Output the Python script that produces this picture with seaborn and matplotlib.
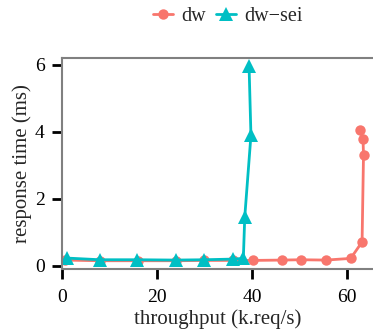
import pandas as pd
import seaborn as sns
import matplotlib.pyplot as plt

# dw: throughput (k.req/s) vs response time (ms)
dw_x = [0.6, 8, 16, 24, 30, 36, 40.3, 46.3, 50.3, 55.6, 60.8, 63.2, 63.5, 63.4, 62.8]
dw_y = [0.17, 0.15, 0.15, 0.15, 0.16, 0.16, 0.16, 0.17, 0.18, 0.17, 0.22, 0.71, 3.29, 3.78, 4.04]

# dw-sei
sei_x = [1.0, 8.0, 15.9, 24.0, 30.0, 36.1, 38.2, 38.5, 39.8, 39.4]
sei_y = [0.23, 0.18, 0.18, 0.17, 0.18, 0.2, 0.22, 1.46, 3.89, 5.97]

series = ["dw", "dw\u2212sei"]
palette = {"dw": "#F8766D", "dw\u2212sei": "#00BFC4"}
markers = {"dw": "o", "dw\u2212sei": "^"}

df = pd.concat([
    pd.DataFrame({"throughput": dw_x, "rt": dw_y, "system": series[0]}),
    pd.DataFrame({"throughput": sei_x, "rt": sei_y, "system": series[1]}),
], ignore_index=True)

sns.set_style("ticks")
plt.rcParams["font.family"] = ["Liberation Serif", "DejaVu Serif"]

fig = plt.figure(figsize=(3.73, 3.36), dpi=100)
ax = fig.add_axes([0.166, 0.199, 0.834, 0.629])

sns.lineplot(data=df, x="throughput", y="rt", hue="system", style="system",
             palette=palette, markers=markers, dashes=False, sort=False,
             estimator=None, linewidth=2, markersize=7.5, markeredgewidth=0,
             ax=ax)

# triangles look a bit bigger than the circles in the original
for ln in ax.lines:
    if ln.get_marker() == "^":
        ln.set_markersize(9.5)

ax.set_xlim(0, 65.5)
ax.set_ylim(-0.1, 6.2)
ax.set_xticks([0, 20, 40, 60])
ax.set_yticks([0, 2, 4, 6])
ax.set_xlabel("throughput (k.req/s)", fontsize=15, labelpad=2)
ax.set_ylabel("response time (ms)", fontsize=15, labelpad=2)
ax.tick_params(axis="both", colors="black", width=2, length=7.5, labelsize=14)
ax.tick_params(axis="x", pad=7)
ax.tick_params(axis="y", pad=5)

for side in ["left", "top", "bottom"]:
    ax.spines[side].set_color("#808080")
    ax.spines[side].set_linewidth(1.5)
ax.spines["right"].set_visible(False)

handles, labels = ax.get_legend_handles_labels()
ax.legend(handles, labels, loc="center", bbox_to_anchor=(0.61, 0.95),
          bbox_transform=fig.transFigure, ncol=2, frameon=False,
          fontsize=14.5, handlelength=1.0, handletextpad=0.4, columnspacing=0.5)

fig.savefig("out.png", dpi=100)
